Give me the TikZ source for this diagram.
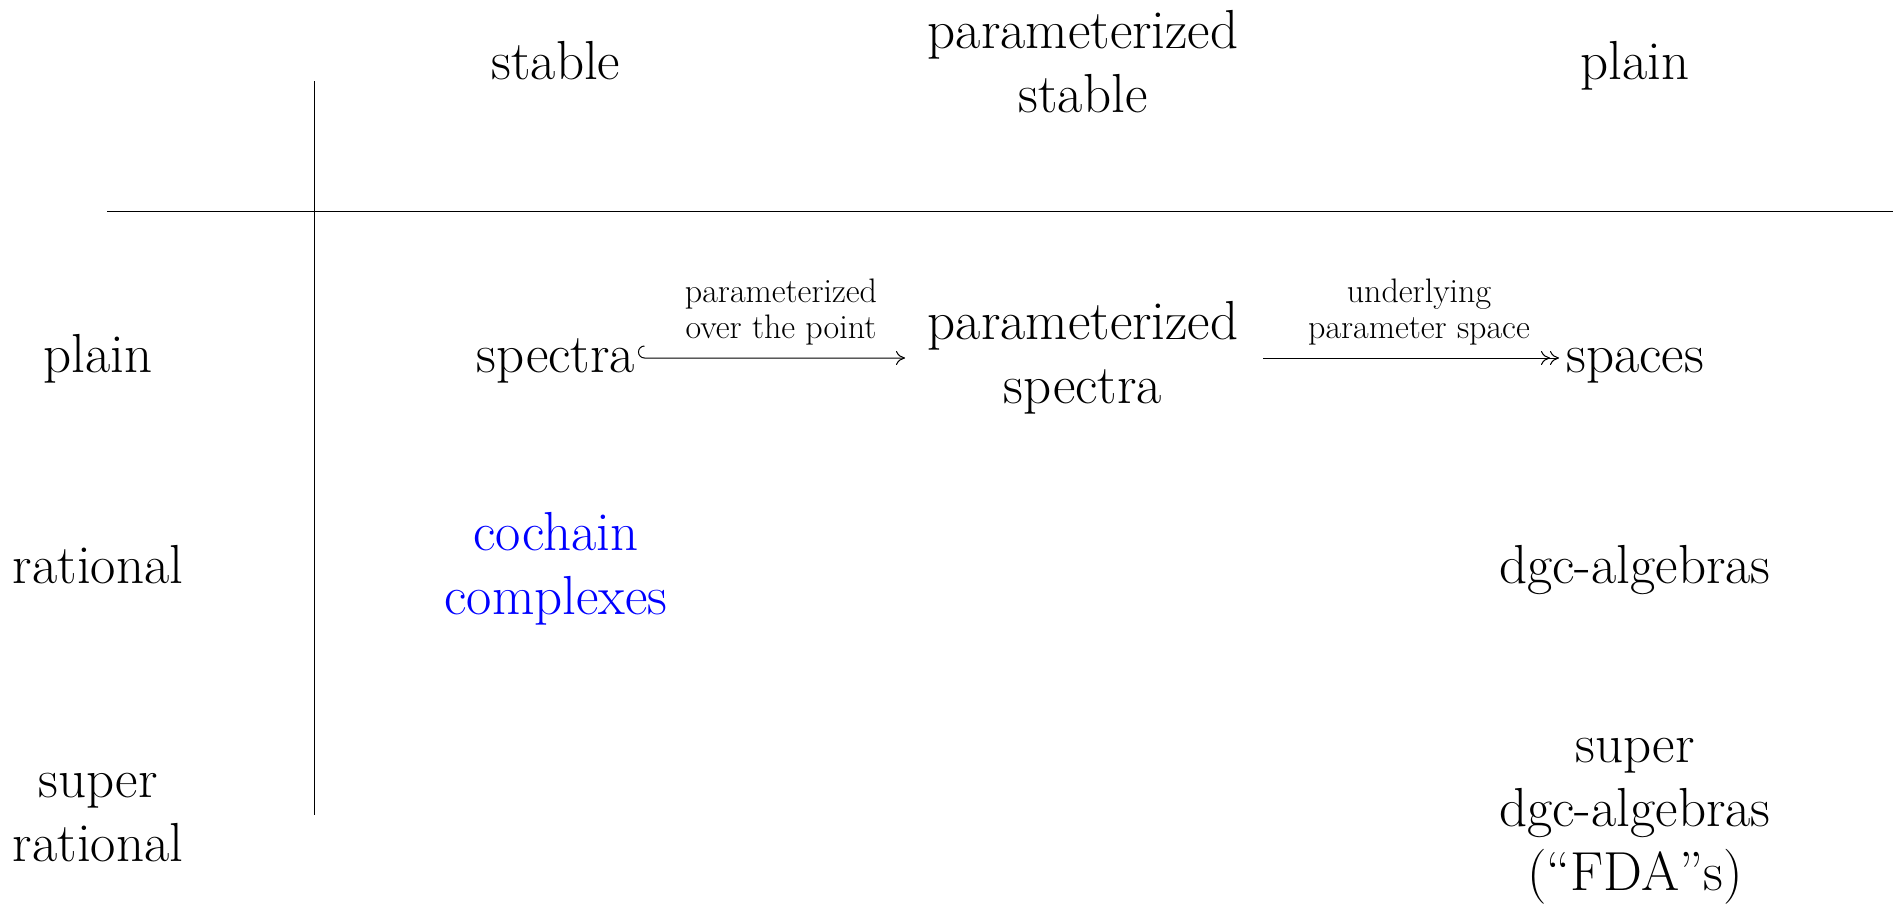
\documentclass[tikz,border=0pt]{standalone}
\usetikzlibrary{arrows.meta,calc}
\begin{document}
\begin{tikzpicture}[x=0.5pt,y=-0.5pt,
  big/.style={font=\fontsize{27.5}{32}\selectfont, align=center, inner sep=0pt},
  lbl/.style={font=\fontsize{17}{17.6}\selectfont, align=center, inner sep=0pt},
  rule/.style={line width=0.5pt},
  map/.style={line width=0.5pt},
  cmto/.tip={Computer Modern Rightarrow[length=4.5pt,width=7pt]}]
\useasboundingbox (0,0) rectangle (1902,910);

% grid lines
\draw[rule] (314,81) -- (314,815);
\draw[rule] (107,211) -- (1893,211);

% column headers
\node[big, anchor=base] (hstable) at (556,79) {stable};
\node[big] (hpstable) at (1083,62) {parameterized\\stable};
\node[big, anchor=base] (hplain) at (1635,79) {plain};

% row headers
\node[big, anchor=base] (rplain) at (98,372) {plain};
\node[big, anchor=base] (rrational) at (98,583) {rational};
\node[big] (rsuper) at (98,818) {super\\rational};

% entries
\node[big, anchor=base] (spectra) at (556,372) {spectra};
\node[big] (pspectra) at (1083,358) {parameterized\\spectra};
\node[big, anchor=base] (spaces) at (1635,372) {spaces};
\node[big, text=blue] (cochain) at (556,569) {cochain\\complexes};
\node[big, anchor=base] (dgc) at (1635,583) {dgc-algebras};
\node[big] (sdgc) at (1635,821) {super\\dgc-algebras\\(``FDA''s)};

% maps: a hooked inclusion and a double-headed surjection
\coordinate (a1s) at ($(spectra.east |- 0,358)+(9,0)$);
\coordinate (a1t) at (905,358);
\coordinate (a2s) at (1263,358);
\coordinate (a2t) at (1559,358);
\draw[map, -{cmto}] (a1s) ++(0,-12) arc[start angle=270, end angle=90, radius=6] -- (a1t);
\draw[map, -{cmto[] cmto}] (a2s) -- (a2t);
\node[lbl] (l1) at (781,312) {parameterized\\over the point};
\node[lbl] (l2) at (1419,312) {underlying\\parameter space};
\end{tikzpicture}
\end{document}
